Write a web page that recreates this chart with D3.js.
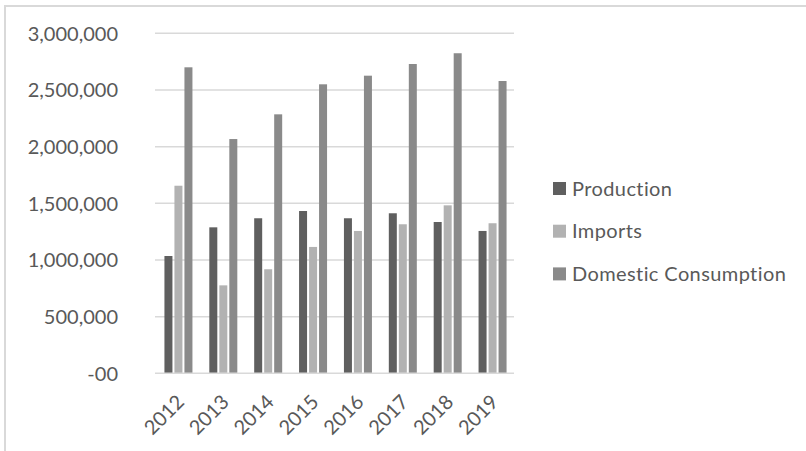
<!DOCTYPE html>
<html>
<head>
<meta charset="utf-8">
<script src="https://cdn.jsdelivr.net/npm/d3@7"></script>
<style>
  html, body { margin: 0; padding: 0; background: #fff; }
  svg { display: block; }
  text { font-family: Lato, "Open Sans", sans-serif; fill: #595959; }
</style>
</head>
<body>
<svg id="chart" width="806" height="451"></svg>
<script>
// Annual figures per series
const years = ["2012", "2013", "2014", "2015", "2016", "2017", "2018", "2019"];
const production = [1035000, 1288000, 1368000, 1432000, 1368000, 1412000, 1335000, 1256000];
const imports = [1655000, 776000, 918000, 1115000, 1256000, 1315000, 1482000, 1324000];
const consumption = [2700000, 2067000, 2285000, 2550000, 2626000, 2729000, 2824000, 2579000];
const seriesNames = ["Production", "Imports", "Domestic Consumption"];
const yTicks = [0, 500000, 1000000, 1500000, 2000000, 2500000, 3000000];

const seriesValues = [production, imports, consumption];
const colors = ["#5f5f5f", "#b2b2b2", "#8a8a8a"];

const svg = d3.select("#chart");

// Chart frame
svg.append("rect")
  .attr("x", 5).attr("y", 6)
  .attr("width", 810).attr("height", 460)
  .attr("fill", "none").attr("stroke", "#d9d9d9").attr("stroke-width", 2);

const plot = { left: 155, right: 514, top: 33.3, bottom: 373.3 };

const x = d3.scaleBand().domain(years).range([plot.left, plot.right]).paddingInner(0).paddingOuter(0);
const y = d3.scaleLinear().domain([0, 3000000]).range([plot.bottom, plot.top]);

const fmt = v => v === 0 ? "-00" : d3.format(",")(v);

// Gridlines
svg.append("g")
  .selectAll("line")
  .data(yTicks.filter(d => d !== 0))
  .join("line")
  .attr("x1", plot.left).attr("x2", plot.right)
  .attr("y1", d => y(d)).attr("y2", d => y(d))
  .attr("stroke", "#d9d9d9").attr("stroke-width", 1.5);

// Y axis labels
const yAxis = d3.axisLeft(y).tickValues(yTicks).tickFormat(fmt).tickSize(0).tickPadding(0);
const yG = svg.append("g").attr("transform", `translate(118,0)`).call(yAxis);
yG.select(".domain").remove();
yG.selectAll("text")
  .attr("font-size", 20)
  .attr("font-family", "Lato, 'Open Sans', sans-serif")
  .attr("fill", "#595959")
  .attr("dy", "0.35em");

// Bars, three per year
const barW = 8, barGap = 2;
const groupW = barW * 3 + barGap * 2;
const data = [];
years.forEach((yr, i) => {
  seriesValues.forEach((vals, s) => data.push({ year: yr, s, v: vals[i] }));
});
svg.append("g")
  .selectAll("rect")
  .data(data)
  .join("rect")
  .attr("x", d => x(d.year) + x.bandwidth() / 2 - groupW / 2 + 1 + d.s * (barW + barGap))
  .attr("y", d => y(d.v))
  .attr("width", barW)
  .attr("height", d => y(0) - y(d.v))
  .attr("fill", d => colors[d.s]);

// Baseline
svg.append("line")
  .attr("x1", plot.left).attr("x2", plot.right)
  .attr("y1", y(0)).attr("y2", y(0))
  .attr("stroke", "#d9d9d9").attr("stroke-width", 1.5);

// X axis labels, rotated
const xAxis = d3.axisBottom(x).tickSize(0).tickPadding(0);
const xG = svg.append("g").attr("transform", `translate(0,${y(0)})`).call(xAxis);
xG.select(".domain").remove();
xG.selectAll(".tick text")
  .attr("font-size", 20)
  .attr("font-family", "Lato, 'Open Sans', sans-serif")
  .attr("fill", "#595959")
  .attr("text-anchor", "end")
  .attr("dy", null)
  .attr("y", 0)
  .attr("transform", "translate(8,30) rotate(-45)");

// Legend
const legend = svg.append("g");
seriesNames.forEach((name, i) => {
  const gy = 182 + i * 42.7;
  legend.append("rect")
    .attr("x", 553).attr("y", gy)
    .attr("width", 13).attr("height", 13)
    .attr("fill", colors[i]);
  legend.append("text")
    .attr("x", 572).attr("y", gy + 13.5)
    .attr("font-size", 20)
    .attr("letter-spacing", 0.4)
    .text(name);
});
</script>
</body>
</html>
